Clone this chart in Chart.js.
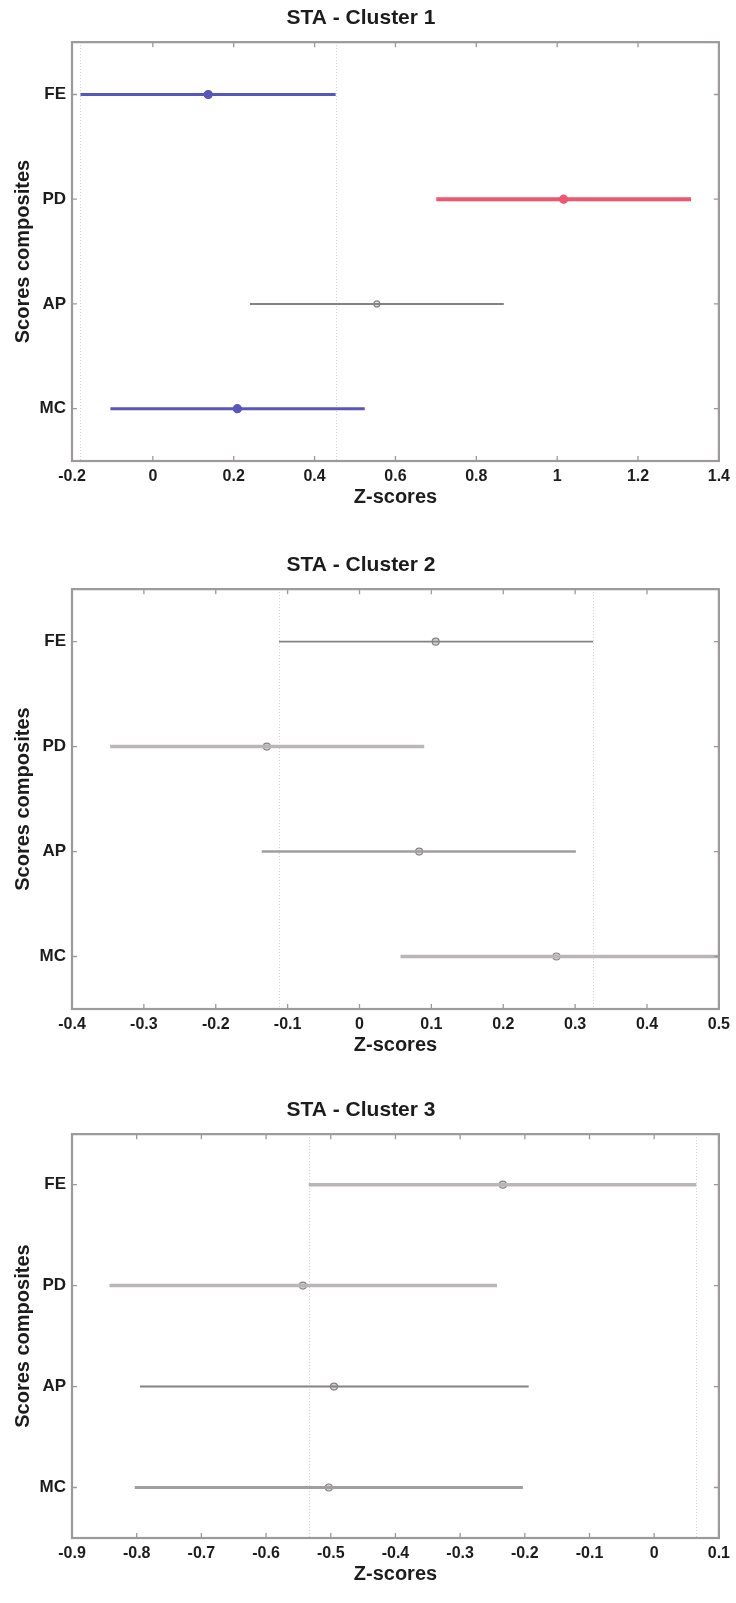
<!DOCTYPE html>
<html>
<head>
<meta charset="utf-8">
<script src="https://cdn.jsdelivr.net/npm/chart.js@4.4.1/dist/chart.umd.min.js"></script>
<style>
body { margin: 0; background: #fff; width: 736px; height: 1603px; position: relative; overflow: hidden; }
.panel { position: absolute; left: 0; width: 736px; }
</style>
</head>
<body>
<div class="panel" style="top:0;height:545px"><canvas id="c1"></canvas></div>
<div class="panel" style="top:547px;height:545px"><canvas id="c2"></canvas></div>
<div class="panel" style="top:1092px;height:511px"><canvas id="c3"></canvas></div>
<script>
const categories = ['FE', 'PD', 'AP', 'MC'];

// Cluster 1
const c1Mean = [0.137, 1.016, 0.554, 0.209];
const c1Low = [-0.179, 0.701, 0.240, -0.105];
const c1High = [0.452, 1.331, 0.868, 0.524];
const c1XTicks = [-0.2, 0, 0.2, 0.4, 0.6, 0.8, 1, 1.2, 1.4];

// Cluster 2
const c2Mean = [0.106, -0.129, 0.083, 0.274];
const c2Low = [-0.112, -0.347, -0.136, 0.057];
const c2High = [0.325, 0.090, 0.301, 0.502];
const c2XTicks = [-0.4, -0.3, -0.2, -0.1, 0, 0.1, 0.2, 0.3, 0.4, 0.5];

// Cluster 3
const c3Mean = [-0.234, -0.543, -0.495, -0.503];
const c3Low = [-0.534, -0.842, -0.795, -0.803];
const c3High = [0.065, -0.243, -0.194, -0.203];
const c3XTicks = [-0.9, -0.8, -0.7, -0.6, -0.5, -0.4, -0.3, -0.2, -0.1, 0, 0.1];

const FONT = "'Liberation Sans', Arial, sans-serif";
const TXT = '#1c1c1c';

const BLUE = '#5656bb';
const RED = '#ee5670';
const DARK = '#858282';
const LIGHT = '#bbb6b6';
const MID = '#a29e9e';

// box, inward ticks and dotted reference lines like the MATLAB figure
const framePlugin = {
    id: 'frame',
    beforeDatasetsDraw(chart, args, opts) {
        const {ctx, chartArea: a, scales: {x}} = chart;
        ctx.save();
        ctx.strokeStyle = '#cfcfcf';
        ctx.lineWidth = 1;
        ctx.setLineDash([1, 2]);
        opts.refs.forEach(v => {
            const px = Math.round(x.getPixelForValue(v)) + 0.5;
            ctx.beginPath();
            ctx.moveTo(px, a.top);
            ctx.lineTo(px, a.bottom);
            ctx.stroke();
        });
        ctx.restore();
    },
    afterDraw(chart) {
        const {ctx, chartArea: a, scales: {x, y}} = chart;
        ctx.save();
        ctx.strokeStyle = '#9d9999';
        ctx.lineWidth = 1.3;
        ctx.beginPath();
        x.ticks.forEach(t => {
            const px = x.getPixelForValue(t.value);
            ctx.moveTo(px, a.bottom); ctx.lineTo(px, a.bottom - 5);
            ctx.moveTo(px, a.top); ctx.lineTo(px, a.top + 5);
        });
        y.ticks.forEach(t => {
            const py = y.getPixelForValue(t.value);
            ctx.moveTo(a.left, py); ctx.lineTo(a.left + 5, py);
            ctx.moveTo(a.right, py); ctx.lineTo(a.right - 5, py);
        });
        ctx.stroke();
        ctx.lineWidth = 2.2;
        ctx.strokeRect(a.left, a.top, a.right - a.left, a.bottom - a.top);
        ctx.restore();
    }
};

function makeChart(id, title, mean, low, high, xTicks, lineColors, lineWidths, dotFill, dotBorder, dotRadius, padBottom) {
    const datasets = categories.map((c, i) => ({
        label: c,
        data: [{x: low[i], y: i}, {x: high[i], y: i}],
        borderColor: lineColors[i],
        borderWidth: lineWidths[i],
        pointRadius: 0,
        borderCapStyle: 'butt'
    }));
    datasets.push({
        label: 'mean',
        data: mean.map((m, i) => ({x: m, y: i})),
        showLine: false,
        pointRadius: dotRadius,
        pointBackgroundColor: dotFill,
        pointBorderColor: dotBorder,
        pointBorderWidth: 1.2
    });

    return new Chart(document.getElementById(id), {
        type: 'line',
        data: {datasets: datasets},
        plugins: [framePlugin],
        options: {
            responsive: true,
            maintainAspectRatio: false,
            animation: false,
            layout: {padding: {left: 0, right: 14, top: 0, bottom: padBottom}},
            plugins: {
                legend: {display: false},
                tooltip: {enabled: false},
                title: {
                    display: true,
                    text: title,
                    color: TXT,
                    font: {family: FONT, size: 21, weight: 'bold', lineHeight: 1.15},
                    padding: {top: 6, bottom: 12}
                },
                frame: {refs: [low[0], high[0]]}
            },
            scales: {
                x: {
                    type: 'linear',
                    min: xTicks[0],
                    max: xTicks[xTicks.length - 1],
                    afterBuildTicks: s => { s.ticks = xTicks.map(v => ({value: v})); },
                    afterFit: s => { s.height = 48; },
                    grid: {display: false, drawTicks: false},
                    border: {display: false},
                    ticks: {
                        color: TXT,
                        padding: 6,
                        maxRotation: 0,
                        font: {family: FONT, size: 16, weight: 'bold'},
                        callback: v => String(v)
                    },
                    title: {
                        display: true,
                        text: 'Z-scores',
                        color: TXT,
                        font: {family: FONT, size: 20, weight: 'bold', lineHeight: 1.2},
                        padding: {top: 0, bottom: 0}
                    }
                },
                y: {
                    type: 'linear',
                    min: -0.5,
                    max: 3.5,
                    reverse: true,
                    afterBuildTicks: s => { s.ticks = categories.map((c, i) => ({value: i})); },
                    afterFit: s => { s.width = 72; },
                    grid: {display: false, drawTicks: false},
                    border: {display: false},
                    ticks: {
                        color: TXT,
                        padding: 6,
                        font: {family: FONT, size: 17, weight: 'bold'},
                        callback: v => categories[v]
                    },
                    title: {
                        display: true,
                        text: 'Scores composites',
                        color: TXT,
                        font: {family: FONT, size: 20, weight: 'bold', lineHeight: 1.2},
                        padding: {top: 11, bottom: 0}
                    }
                }
            }
        }
    });
}

makeChart('c1', 'STA - Cluster 1', c1Mean, c1Low, c1High, c1XTicks,
    [BLUE, RED, DARK, BLUE], [3, 4, 2, 3],
    [BLUE, RED, '#e4e0e0', BLUE], [BLUE, RED, DARK, BLUE], [4, 4, 3, 4], 36);

makeChart('c2', 'STA - Cluster 2', c2Mean, c2Low, c2High, c2XTicks,
    [DARK, LIGHT, MID, LIGHT], [1.6, 3.5, 2.5, 3.5],
    '#d6d2d2', DARK, 3.5, 35);

makeChart('c3', 'STA - Cluster 3', c3Mean, c3Low, c3High, c3XTicks,
    [LIGHT, LIGHT, DARK, MID], [3.5, 3.5, 2, 3],
    '#d6d2d2', DARK, 3.5, 17);
</script>
</body>
</html>
